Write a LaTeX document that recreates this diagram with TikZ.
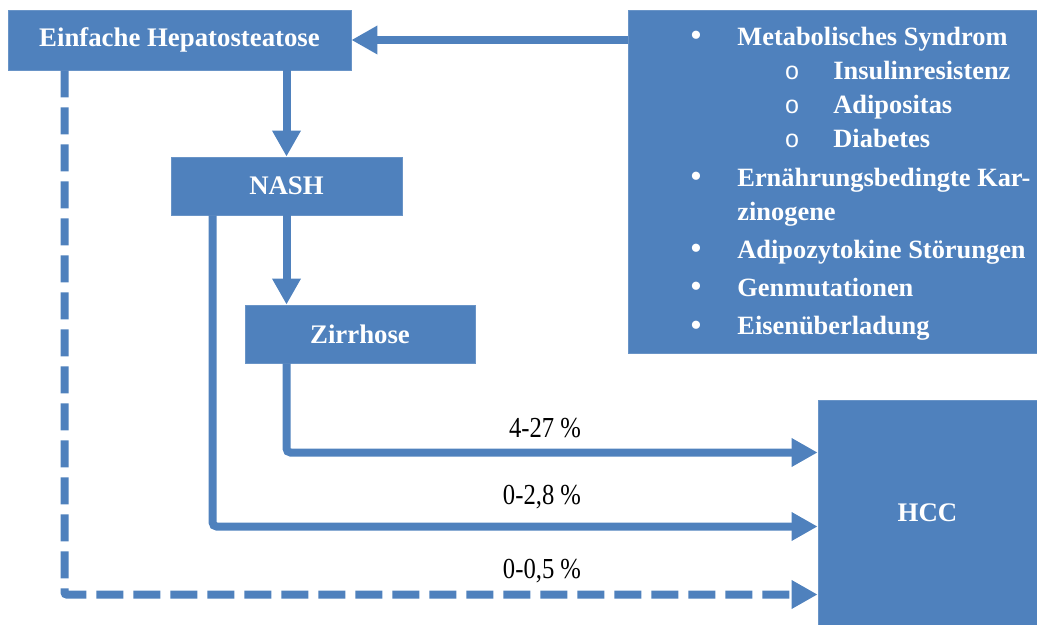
\documentclass[tikz,border=0pt]{standalone}
\usepackage{fontspec}
\setmainfont{Liberation Serif}
\newfontfamily\lblfont[FakeStretch=0.85]{Liberation Serif}
\newfontfamily\subfont{Liberation Mono}
\usetikzlibrary{arrows.meta}
\definecolor{hblue}{HTML}{4F81BD}
\tikzset{
  box/.style={fill=hblue, draw=hblue!85!white, text=white, inner sep=0pt,
    font=\bfseries\fontsize{13.4}{15}\selectfont},
  arr/.style={draw=hblue, line width=4pt, rounded corners=2pt,
    -{Triangle[length=13pt,width=13.5pt]}},
  lbl/.style={font=\lblfont\fontsize{14.5}{16}\selectfont, inner sep=0pt},
  item/.style={text=white, inner sep=0pt, anchor=base west,
    font=\bfseries\fontsize{13.2}{15}\selectfont}
}
\begin{document}
\begin{tikzpicture}[x=0.5pt, y=-0.5pt]
    \useasboundingbox (0,0) rectangle (1037,625);

    % 绘制方框
    \node[box, minimum width=171.5pt, minimum height=30pt] (steat) at (179.5,40) {Einfache Hepatosteatose};
    \node[box, minimum width=115.5pt, minimum height=29pt] (nash) at (286.5,186) {NASH};
    \node[box, minimum width=115pt, minimum height=29pt] (zirr) at (360,334) {Zirrhose};
    \node[box, minimum width=204.5pt, minimum height=171.5pt] (risk) at (832.5,181.5) {};
    \node[box, minimum width=109.5pt, minimum height=112.5pt] (hcc) at (927.5,512.5) {HCC};

    % 绘制风险因素
    \foreach \txt/\yy in {Metabolisches Syndrom/46, Ernährungsbedingte Kar-/187,
        Adipozytokine Störungen/259, Genmutationen/297, Eisenüberladung/335}
      \node[item] (it\yy) at (737,\yy) {\txt};
    \node[item] (it221) at (737,221) {zinogene};
    \foreach \txt/\yy in {Insulinresistenz/80, Adipositas/114, Diabetes/148}
      \node[item] (sub\yy) at (833,\yy) {\txt};
    \foreach \yy in {46,187,259,297,335}
      \node[item, anchor=base, font=\fontsize{17}{17}\selectfont] (dot\yy) at (696,\yy+1) {\textbullet};
    \foreach \yy in {80,114,148}
      \node[item, anchor=base, font=\subfont\fontsize{12.5}{14}\selectfont] (circ\yy) at (792,\yy) {o};

    % 绘制箭头
    \draw[arr] (risk.west |- steat.east) -- (steat.east);
    \draw[arr] (steat.south -| nash.north) -- (nash.north);
    \draw[arr] (nash.south) -- (nash.south |- zirr.north);
    \draw[arr] (zirr.south -| nash.south) |- ([yshift=30pt]hcc.west);
    \draw[arr] ([xshift=21pt]nash.south west) |- ([yshift=-7pt]hcc.west);
    \draw[arr, dash pattern=on 13.5pt off 5pt, rounded corners=1pt]
      ([xshift=28.5pt]steat.south west) |- ([yshift=-41pt]hcc.west);

    % 标注百分比
    \node[lbl] (p1) at (545,428) {4-27 \%};
    \node[lbl] (p2) at (542,497) {0-2,8 \%};
    \node[lbl] (p3) at (542,571) {0-0,5 \%};
\end{tikzpicture}
\end{document}
